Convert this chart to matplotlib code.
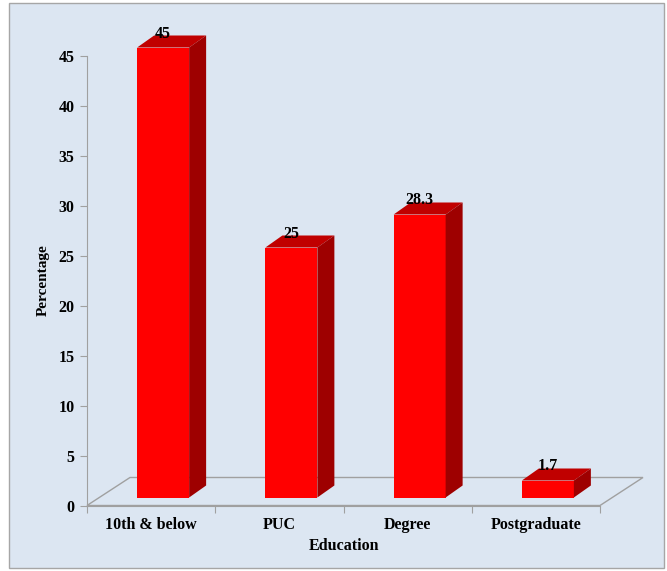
import matplotlib.pyplot as plt
import matplotlib.patches as mpatches

categories = ['10th & below', 'PUC', 'Degree', 'Postgraduate']
percent = [45, 25, 28.3, 1.7]
value_labels = ['45', '25', '28.3', '1.7']
yticks = list(range(0, 50, 5))

W, H, DPI = 667, 571, 100
plt.rcParams['font.family'] = ['Liberation Serif', 'DejaVu Serif']
plt.rcParams['font.weight'] = 'bold'

fig = plt.figure(figsize=(W / DPI, H / DPI), dpi=DPI)
fig.add_artist(mpatches.Rectangle((9 / W, 3 / H), 655 / W, 565 / H,
                                  transform=fig.transFigure,
                                  facecolor='#dce6f2', edgecolor='#a6a6a6',
                                  lw=1, zorder=-1))

# plot area in pixels: x 87..600, y 505.5 (value 0) .. 55.5 (value 45)
ax = fig.add_axes([87 / W, (H - 505.5) / H, 513 / W, 450 / H])
ax.patch.set_visible(False)
ax.set_xlim(-0.5, len(categories) - 0.5)
ax.set_ylim(0, 45)

px_x = 513 / len(categories)   # pixels per x unit
px_y = 450 / 45                # pixels per y unit

# perspective offsets (pixels -> data units)
floor_dx, floor_dy = 43 / px_x, 28 / px_y
front_dx, front_dy = 12 / px_x, 8 / px_y
depth_dx, depth_dy = 17 / px_x, 12 / px_y
bar_w = 52 / px_x

grey = '#a0a0a0'
floor = plt.Polygon([(-0.5, 0), (-0.5 + floor_dx, floor_dy),
                     (3.5 + floor_dx, floor_dy), (3.5, 0)],
                    closed=True, fill=False, edgecolor=grey, lw=1,
                    clip_on=False, zorder=1)
ax.add_patch(floor)

xs = list(range(len(categories)))
fx = [x + front_dx for x in xs]
ax.bar(fx, percent, width=bar_w, bottom=front_dy, color='#ff0000',
       edgecolor='none', zorder=3, clip_on=False)

for x, v, lbl in zip(fx, percent, value_labels):
    x0, x1 = x - bar_w / 2, x + bar_w / 2
    top = v + front_dy
    ax.add_patch(plt.Polygon([(x0, top), (x1, top),
                              (x1 + depth_dx, top + depth_dy),
                              (x0 + depth_dx, top + depth_dy)],
                             facecolor='#c00000', edgecolor='none',
                             zorder=3, clip_on=False))
    ax.add_patch(plt.Polygon([(x1, front_dy), (x1 + depth_dx, front_dy + depth_dy),
                              (x1 + depth_dx, top + depth_dy), (x1, top)],
                             facecolor='#9e0000', edgecolor='none',
                             zorder=3, clip_on=False))
    ax.annotate(lbl, (x, top + depth_dy), xytext=(0, -2),
                textcoords='offset pixels', ha='center', va='baseline',
                fontsize=11.5, fontweight='bold', zorder=4,
                annotation_clip=False)

for side in ['top', 'right']:
    ax.spines[side].set_visible(False)
ax.spines['left'].set_color(grey)
ax.spines['bottom'].set_color(grey)

ax.set_yticks(yticks)
ax.tick_params(axis='y', length=5, color=grey, labelsize=11.5, pad=4)
ax.set_xticks([x - 0.5 for x in range(len(categories) + 1)])
ax.set_xticklabels([])
ax.tick_params(axis='x', which='major', length=5, color=grey)
ax.set_xticks(xs, minor=True)
ax.set_xticklabels(categories, minor=True)
ax.tick_params(axis='x', which='minor', length=0, labelsize=11.5, pad=8)

ax.set_xlabel('Education', fontsize=11.5, fontweight='bold', labelpad=4)
ax.set_ylabel('Percentage', fontsize=11, fontweight='bold', labelpad=6)

fig.savefig('out.png', dpi=DPI)
